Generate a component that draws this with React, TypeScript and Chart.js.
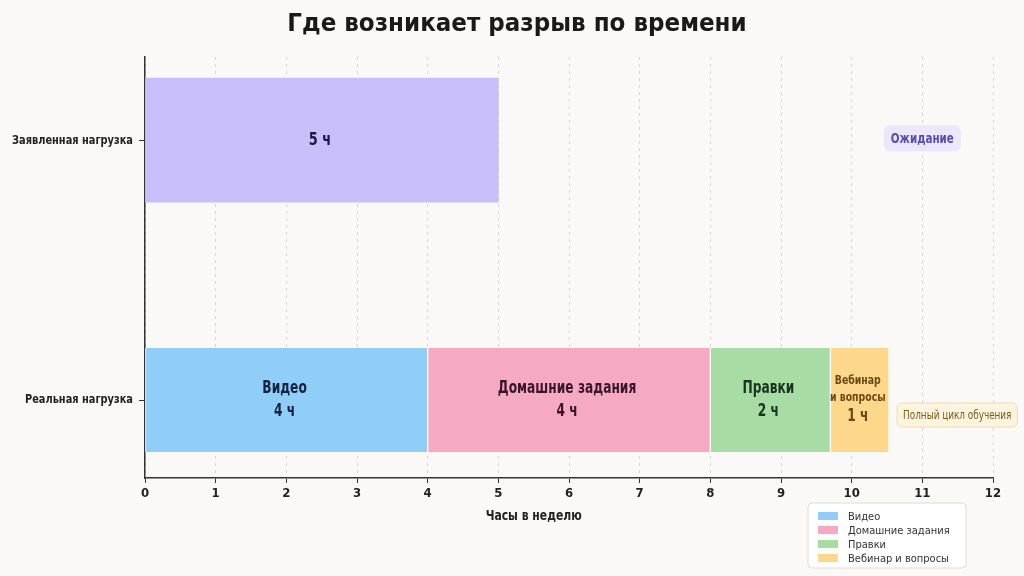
import { useEffect, useRef } from "react";
import { Chart, ChartConfiguration, Plugin, registerables } from "chart.js";

Chart.register(...registerables);

// --- data ---
const categories = ["Заявленная нагрузка", "Реальная нагрузка"];
const categoryPositions = [1, 0];
const plannedHours = [5];
const plannedLabels = ["5 ч"];
const segmentNames = ["Видео", "Домашние задания", "Правки", "Вебинар и вопросы"];
const segmentInnerNames = [["Видео"], ["Домашние задания"], ["Правки"], ["Вебинар", "и вопросы"]];
const segmentHours = [4, 4, 1.7, 0.83];
const segmentLabels = ["4 ч", "4 ч", "2 ч", "1 ч"];
const chartTitle = "Где возникает разрыв по времени";
const xTitle = "Часы в неделю";
const plannedNote = "Ожидание";
const realNote = "Полный цикл обучения";

const BG = "#faf9f7";
const COND = "'DejaVu Sans Condensed', 'DejaVu Sans', sans-serif";
const SANS = "'DejaVu Sans', sans-serif";
const plannedColor = "#c8befa";
const segmentColors = ["#90cdf8", "#f6a9c3", "#a9dca5", "#fcd78c"];
const segmentTextColors = ["#13223f", "#3a1628", "#17341f", "#6b4a10"];

function roundRect(ctx: CanvasRenderingContext2D, x: number, y: number, w: number, h: number, r: number) {
  ctx.beginPath();
  ctx.moveTo(x + r, y);
  ctx.arcTo(x + w, y, x + w, y + h, r);
  ctx.arcTo(x + w, y + h, x, y + h, r);
  ctx.arcTo(x, y + h, x, y, r);
  ctx.arcTo(x, y, x + w, y, r);
  ctx.closePath();
}

// narrow text: draws with horizontal squeeze
function narrowText(ctx: CanvasRenderingContext2D, text: string, x: number, y: number, sx: number) {
  ctx.save();
  ctx.translate(x, y);
  ctx.scale(sx, 1);
  ctx.fillText(text, 0, 0);
  ctx.restore();
}

const barLabels: Plugin = {
  id: "barLabels",
  afterDatasetsDraw(chart) {
    const ctx = chart.ctx;
    ctx.save();
    ctx.textAlign = "center";
    ctx.textBaseline = "middle";
    chart.data.datasets.forEach((ds: any, i) => {
      const meta = chart.getDatasetMeta(i);
      meta.data.forEach((el: any) => {
        const lines: { text: string; size: number }[] = ds.innerLines;
        const cx = (el.x + el.base) / 2;
        const heights = lines.map((l) => l.size * 1.3);
        const total = heights.reduce((a, b) => a + b, 0);
        let y = el.y - total / 2;
        ctx.fillStyle = ds.textColor;
        lines.forEach((l, k) => {
          ctx.font = `bold ${l.size}px ${COND}`;
          narrowText(ctx, l.text, cx - 2, y + heights[k] / 2, 0.8);
          y += heights[k];
        });
      });
    });
    ctx.restore();
  },
};

const extras: Plugin = {
  id: "extras",
  afterDraw(chart) {
    const ctx = chart.ctx;
    const xs = chart.scales.x;
    const ys = chart.scales.y;
    const area = chart.chartArea;
    ctx.save();
    ctx.textAlign = "center";
    ctx.textBaseline = "middle";

    // title
    ctx.font = `bold 24px ${SANS}`;
    ctx.fillStyle = "#1a1a1a";
    narrowText(ctx, chartTitle, 517, 25, 0.96);

    // y category labels
    ctx.textAlign = "right";
    ctx.font = `bold 13px ${COND}`;
    ctx.fillStyle = "#222";
    categories.forEach((c, i) => {
      narrowText(ctx, c, area.left - 12, ys.getPixelForValue(categoryPositions[i]), 0.84);
    });
    ctx.textAlign = "center";

    // "Ожидание" badge
    ctx.font = `bold 14px ${COND}`;
    let w = ctx.measureText(plannedNote).width * 0.82 + 14;
    const cx = xs.getPixelForValue(11);
    let cy = ys.getPixelForValue(categoryPositions[0]) - 2;
    ctx.fillStyle = "#ece7fd";
    roundRect(ctx, cx - w / 2, cy - 13, w, 26, 6);
    ctx.fill();
    ctx.fillStyle = "#5a4bb0";
    narrowText(ctx, plannedNote, cx, cy + 1, 0.82);

    // "Полный цикл обучения" badge
    const lastMeta = chart.getDatasetMeta(chart.data.datasets.length - 1);
    const el: any = lastMeta.data[0];
    ctx.font = `12px ${COND}`;
    w = ctx.measureText(realNote).width * 0.82 + 12;
    const left = el.x + 8;
    cy = el.y + 15;
    ctx.fillStyle = "#fdf4e0";
    ctx.strokeStyle = "#f1dba8";
    ctx.lineWidth = 1;
    roundRect(ctx, left, cy - 12, w, 24, 5);
    ctx.fill();
    ctx.stroke();
    ctx.fillStyle = "#7d5a1e";
    narrowText(ctx, realNote, left + w / 2, cy + 1, 0.82);

    // x axis title
    ctx.font = `bold 14px ${COND}`;
    ctx.fillStyle = "#222";
    narrowText(ctx, xTitle, xs.getPixelForValue(5.5), area.bottom + 38, 0.86);

    // legend
    const bx = area.right - 185;
    const by = area.bottom + 25;
    const bw = 158;
    const bh = 65;
    ctx.fillStyle = "#ffffff";
    ctx.strokeStyle = "#dcdcdc";
    roundRect(ctx, bx, by, bw, bh, 4);
    ctx.fill();
    ctx.stroke();
    ctx.textAlign = "left";
    ctx.font = `11px ${COND}`;
    segmentNames.forEach((name, i) => {
      const ry = by + 13 + i * 14;
      ctx.fillStyle = segmentColors[i];
      ctx.fillRect(bx + 10, ry - 4, 20, 8);
      ctx.fillStyle = "#333";
      ctx.fillText(name, bx + 40, ry + 1);
    });

    ctx.restore();
  },
};

export default function App() {
  const canvasRef = useRef<HTMLCanvasElement>(null);
  const chartRef = useRef<Chart | null>(null);

  useEffect(() => {
    if (!canvasRef.current) return;
    if (chartRef.current) chartRef.current.destroy();
    const ctx = canvasRef.current.getContext("2d");
    if (!ctx) return;

    const datasets: any[] = [
      {
        label: categories[0],
        data: plannedHours.map((h) => ({ x: h, y: categoryPositions[0] })),
        backgroundColor: plannedColor,
        barThickness: 124,
        borderWidth: 0,
        innerLines: [{ text: plannedLabels[0], size: 18 }],
        textColor: "#1d1840",
      },
      ...segmentNames.map((name, i) => ({
        label: name,
        data: [{ x: segmentHours[i], y: categoryPositions[1] }],
        backgroundColor: segmentColors[i],
        borderColor: "#ffffff",
        borderWidth: { left: 1, right: 1, top: 0, bottom: 0 },
        borderSkipped: false,
        barThickness: 104,
        innerLines: [
          ...segmentInnerNames[i].map((t) => ({ text: t, size: segmentInnerNames[i].length > 1 ? 13 : 17 })),
          { text: segmentLabels[i], size: 17 },
        ],
        textColor: segmentTextColors[i],
      })),
    ];

    const config: ChartConfiguration = {
      type: "bar",
      data: { datasets },
      options: {
        indexAxis: "y",
        animation: false,
        responsive: true,
        maintainAspectRatio: false,
        layout: { padding: { left: 0, right: 31, top: 57, bottom: 0 } },
        plugins: {
          legend: { display: false },
          tooltip: { enabled: false },
          title: { display: false },
        },
        scales: {
          x: {
            type: "linear",
            stacked: true,
            min: 0,
            max: 12,
            ticks: {
              stepSize: 1,
              color: "#222",
              padding: 3,
              font: { family: COND, size: 13, weight: "bold" },
            },
            grid: {
              color: "#d6d6d6",
              lineWidth: 1,
              drawTicks: true,
              tickLength: 5,
              tickColor: "#333",
            },
            border: { display: true, color: "#333", width: 1.5, dash: [3, 4] },
            afterFit: (scale: any) => {
              scale.height = 98;
            },
          },
          y: {
            type: "linear",
            stacked: true,
            offset: false,
            min: -0.3,
            max: 1.32,
            afterBuildTicks: (scale: any) => {
              scale.ticks = categoryPositions.map((v) => ({ value: v }));
            },
            ticks: { display: false },
            grid: {
              offset: false,
              drawOnChartArea: false,
              drawTicks: true,
              tickLength: 6,
              tickColor: "#333",
            },
            border: { display: true, color: "#333", width: 1.5 },
            afterFit: (scale: any) => {
              scale.width = 145;
            },
          },
        },
      } as any,
      plugins: [barLabels, extras],
    };

    chartRef.current = new Chart(ctx, config);
    return () => {
      chartRef.current?.destroy();
    };
  }, []);

  return (
    <div style={{ position: "fixed", left: 0, top: 0, width: 1024, height: 576, background: BG }}>
      <canvas ref={canvasRef} />
    </div>
  );
}
